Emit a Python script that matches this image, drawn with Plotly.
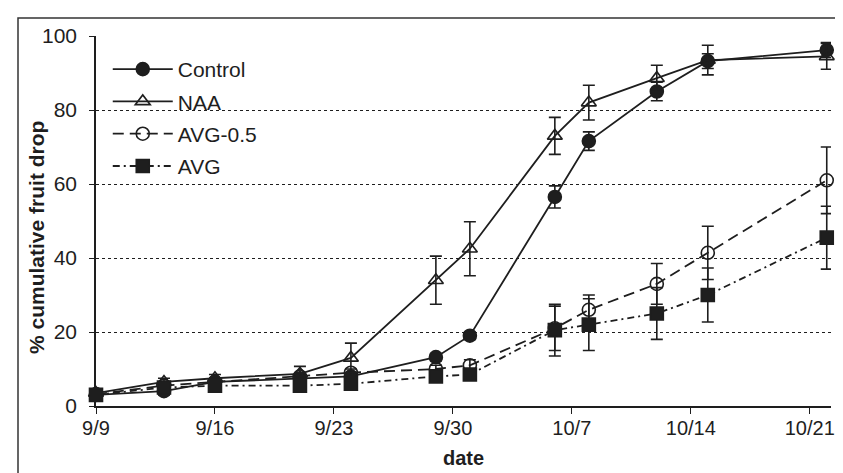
import plotly.graph_objects as go

dates = ["2003-09-09", "2003-09-13", "2003-09-16", "2003-09-21", "2003-09-24", "2003-09-29",
         "2003-10-01", "2003-10-06", "2003-10-08", "2003-10-12", "2003-10-15", "2003-10-22"]

control = [3.0, 4.0, 6.5, 7.5, 8.0, 13.2, 19.0, 56.5, 71.6, 85.0, 93.2, 96.2]
control_err = [1, 1, 1, 1, 1, 1, 1, 3, 2.5, 2.5, 2, 2]
naa = [3.5, 6.5, 7.5, 8.7, 13.0, 34.0, 42.5, 73.0, 82.0, 88.6, 93.5, 94.5]
naa_err = [1, 1, 1, 2, 4, 6.5, 7.3, 5, 4.7, 3.5, 4, 3.5]
avg05 = [3.2, 5.5, 6.5, 8.0, 9.0, 10.0, 11.0, 21.0, 26.0, 33.0, 41.4, 61.0]
avg05_err = [1, 1, 1, 1, 1, 1, 1.5, 6, 4, 5.5, 7.2, 9]
avg = [3.0, 5.0, 5.5, 5.5, 6.0, 8.0, 8.5, 20.5, 22.0, 25.0, 30.0, 45.5]
avg_err = [1, 1, 1, 1, 1, 1, 1.5, 7, 7, 7, 7.3, 8.5]

tick_dates = ["2003-09-09", "2003-09-16", "2003-09-23", "2003-09-30", "2003-10-07", "2003-10-14", "2003-10-21"]
tick_text = ["9/9", "9/16", "9/23", "9/30", "10/7", "10/14", "10/21"]
y_ticks = [0, 20, 40, 60, 80, 100]

INK = "#1e1e1e"

def series(name, y, err, symbol, dash, group):
    return go.Scatter(
        x=dates, y=y, name=name, mode="lines+markers",
        legendgroup=group,
        line=dict(color=INK, width=1.8, dash=dash),
        marker=dict(symbol=symbol, size=13, color=INK,
                    line=dict(color=INK, width=1.6)),
        error_y=dict(type="data", array=err, visible=True, color=INK,
                     thickness=1.6, width=6),
        cliponaxis=False,
    )

fig = go.Figure()
fig.add_trace(series("Control", control, control_err, "circle", "solid", "a"))
fig.add_trace(series("NAA", naa, naa_err, "triangle-up-open", "solid", "b"))
fig.add_trace(series("AVG-0.5", avg05, avg05_err, "circle-open", "11px,6px", "c"))
fig.add_trace(series("AVG", avg, avg_err, "square", "7px,4px,2px,4px", "d"))

fig.update_layout(
    width=843, height=473,
    margin=dict(l=88, r=20, t=28, b=75, autoexpand=False),
    paper_bgcolor="white", plot_bgcolor="white",
    font=dict(family="Liberation Sans, Arial, sans-serif", color=INK, size=20),
    showlegend=True,
    legend=dict(x=0.016, y=0.965, xanchor="left", yanchor="top",
                bgcolor="rgba(0,0,0,0)", borderwidth=0,
                font=dict(size=21, color=INK),
                traceorder="grouped", tracegroupgap=2, itemwidth=60),
    xaxis=dict(
        type="date", automargin=False,
        range=["2003-09-09", "2003-10-22 06:00"],
        tickvals=tick_dates, ticktext=tick_text,
        showgrid=False, zeroline=False,
        showline=True, linecolor=INK, linewidth=1.5,
        ticks="outside", ticklen=6, tickcolor=INK, tickwidth=1.2,
        tickfont=dict(size=20), ticklabelstandoff=-3,
        title=dict(text="<b>date</b>", font=dict(size=20), standoff=13),
    ),
    yaxis=dict(
        range=[0, 100], automargin=False,
        tickvals=y_ticks,
        showgrid=True, gridcolor=INK, gridwidth=1, griddash="dot",
        zeroline=False,
        showline=True, linecolor=INK, linewidth=1.5,
        ticks="outside", ticklen=5, tickcolor=INK, tickwidth=1.2,
        tickfont=dict(size=21), ticklabelstandoff=8,
    ),
    yaxis2=dict(
        range=[0, 100], automargin=False, overlaying="y", anchor="x", side="left",
        tickvals=y_ticks, showticklabels=False,
        showgrid=False, zeroline=False, showline=False,
        ticks="inside", ticklen=4, tickcolor=INK, tickwidth=1.2,
    ),
    annotations=[dict(text="<b>% cumulative fruit drop</b>", textangle=-90,
                      xref="paper", yref="paper",
                      x=(28 - 88) / 735, y=(398 - 230) / 370,
                      xanchor="center", yanchor="middle", showarrow=False,
                      font=dict(size=21, color=INK))],
    shapes=[
        dict(type="rect", xref="paper", yref="paper",
             x0=-78/735, x1=1.2, y0=-0.4, y1=(398-10)/370,
             line=dict(color="#333", width=1.5), layer="below"),
        dict(type="rect", xref="paper", yref="paper",
             x0=4/735, x1=(262-88)/735, y0=(398-110)/370, y1=(398-88)/370,
             fillcolor="white", line=dict(width=0), layer="between"),
    ],
)

fig.write_html("out.html")
